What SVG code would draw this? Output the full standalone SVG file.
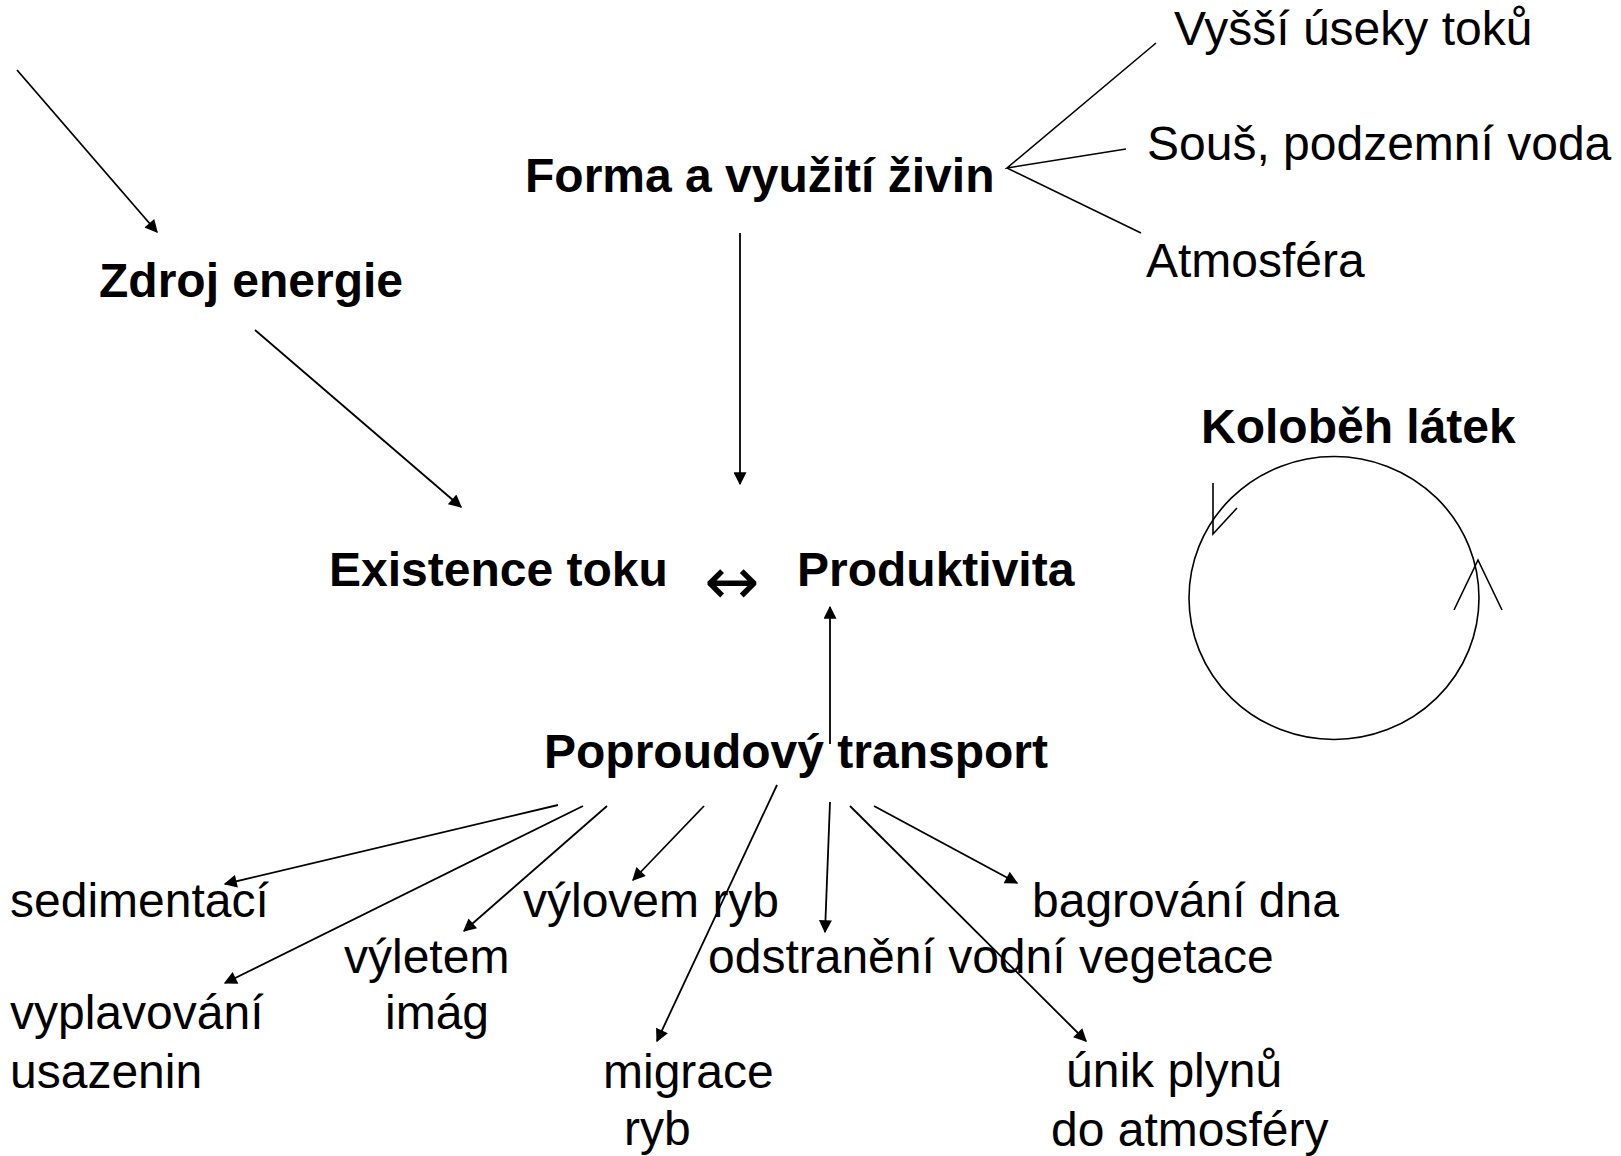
<svg xmlns="http://www.w3.org/2000/svg" width="1621" height="1156" viewBox="0 0 1621 1156">
<style>
text{font-family:"Liberation Sans",Arial,sans-serif;font-size:48px;fill:#000}
.b{font-weight:bold}
.sym{font-family:"DejaVu Sans",sans-serif;font-size:66px}
.ln{stroke:#000;stroke-width:1.6;fill:none}
.ar{stroke:#000;stroke-width:1.8;fill:none;marker-end:url(#ah)}
</style>
<defs>
<marker id="ah" viewBox="0 0 10 10" refX="9" refY="5" markerWidth="18" markerHeight="13" markerUnits="userSpaceOnUse" orient="auto">
<path d="M0,0 L10,5 L0,10 z" fill="#000"/>
</marker>
</defs>
<rect width="1621" height="1156" fill="#fff"/>
<g id="connectors">
<line class="ar" x1="17" y1="70" x2="157" y2="232"/>
<line class="ar" x1="255" y1="330" x2="461" y2="507"/>
<line class="ar" x1="740" y1="233" x2="740" y2="484"/>
<line class="ar" x1="830" y1="744" x2="830" y2="607"/>
<polyline class="ln" points="1156,43 1007,168 1126,149"/>
<line class="ln" x1="1007" y1="168" x2="1141" y2="233"/>
<line class="ar" x1="558" y1="805" x2="225" y2="884"/>
<line class="ar" x1="583" y1="806" x2="225" y2="983"/>
<line class="ar" x1="607" y1="806" x2="464" y2="931"/>
<line class="ar" x1="704" y1="806" x2="633" y2="880"/>
<line class="ar" x1="777" y1="785" x2="657" y2="1041"/>
<line class="ar" x1="830" y1="802" x2="825" y2="932"/>
<line class="ar" x1="850" y1="806" x2="1086" y2="1041"/>
<line class="ar" x1="874" y1="806" x2="1017" y2="883"/>
</g>
<g id="zdroj"><text class="b" x="99" y="297">Zdroj energie</text></g>
<g id="forma"><text class="b" x="525" y="192">Forma a využití živin</text></g>
<g id="vyssi"><text x="1174" y="45">Vyšší úseky toků</text></g>
<g id="sous"><text x="1147" y="160">Souš, podzemní voda</text></g>
<g id="atmosfera"><text x="1146" y="277">Atmosféra</text></g>
<g id="existence"><text class="b" x="329" y="586">Existence toku</text></g>
<g id="obousmerne"><text class="sym" x="732" y="604" text-anchor="middle">↔</text></g>
<g id="produktivita"><text class="b" x="797" y="586">Produktivita</text></g>
<g id="kolobeh">
<text class="b" x="1201" y="443">Koloběh látek</text>
<ellipse class="ln" cx="1334" cy="598" rx="145" ry="141.5"/>
<polyline class="ln" points="1213,483 1213,534 1237,508"/>
<polyline class="ln" points="1454,610 1478,560 1502,610"/>
</g>
<g id="poproudovy"><text class="b" x="544" y="768">Poproudový transport</text></g>
<g id="sedimentaci"><text x="10" y="917">sedimentací</text></g>
<g id="vyplavovani"><text x="10" y="1029">vyplavování</text><text x="10" y="1088">usazenin</text></g>
<g id="vyletem"><text x="344" y="973">výletem</text><text x="385" y="1029">imág</text></g>
<g id="vylovem"><text x="523" y="917">výlovem ryb</text></g>
<g id="migrace"><text x="603" y="1088">migrace</text><text x="624" y="1145">ryb</text></g>
<g id="odstraneni"><text x="708" y="973">odstranění vodní vegetace</text></g>
<g id="bagrovani"><text x="1032" y="917">bagrování dna</text></g>
<g id="unik"><text x="1066" y="1087">únik plynů</text><text x="1051" y="1146">do atmosféry</text></g>
</svg>
